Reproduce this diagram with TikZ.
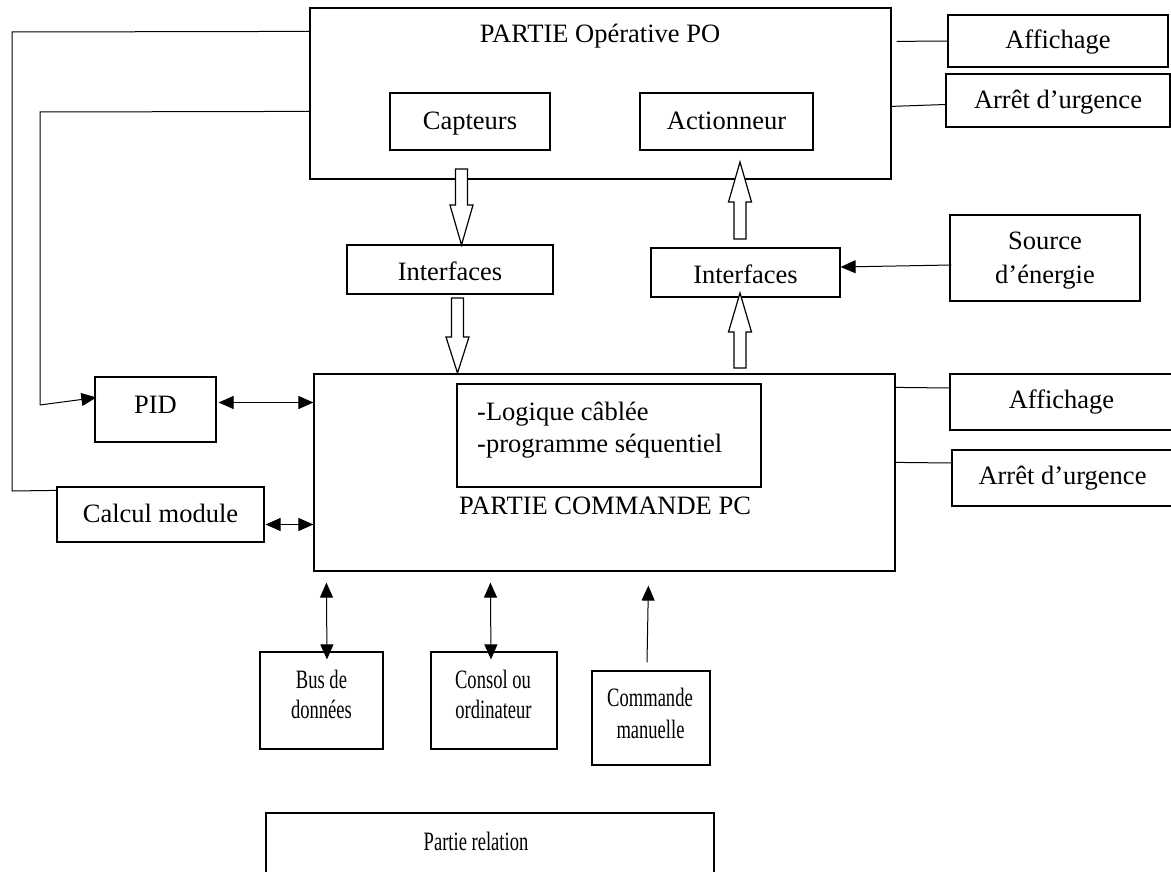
\documentclass[tikz,border=0pt]{standalone}
\usepackage{fontspec}
\setmainfont{Liberation Serif}
\newfontfamily\narrowserif[FakeStretch=0.7]{Liberation Serif}
\usetikzlibrary{arrows.meta,calc}

% block arrow: x, tail y, head-base y, tip y
\newcommand{\blockarrow}[4]{%
  \draw[hollow] ({#1-6},{#2}) -- ({#1+6},{#2}) -- ({#1+6},{#3}) -- ({#1+11.5},{#3})
    -- ({#1},{#4}) -- ({#1-11.5},{#3}) -- ({#1-6},{#3}) -- cycle;}

\begin{document}
\begin{tikzpicture}[x=1pt,y=-1pt,
  txt/.style={font=\fontsize{26.5}{31}\selectfont, inner sep=0pt},
  ntxt/.style={font=\narrowserif\fontsize{26.5}{31}\selectfont, inner sep=0pt},
  box/.style={draw, line width=1.2pt, inner sep=0pt,
    text height=22pt, text depth=6pt,
    font=\fontsize{26.5}{31}\selectfont},
  wire/.style={line width=1pt},
  tip/.style={line width=1pt, -{Triangle[length=15pt,width=13pt]}},
  bitip/.style={line width=1pt, {Triangle[length=15pt,width=13pt]}-{Triangle[length=15pt,width=13pt]}},
  hollow/.style={draw, fill=white, line width=1.2pt, line join=miter}]

\useasboundingbox (0,0) rectangle (1171,872);
\clip (0,0) rectangle (1171,872);

% operative part
\node[box, minimum width=581pt, minimum height=171pt] (po) at (600.5,93.5) {};
\node[txt, anchor=base] (potitle) at (600,43) {PARTIE Opérative PO};
\node[box, minimum width=160pt, minimum height=57pt] (capt) at (470,121.5) {Capteurs};
\node[box, minimum width=173pt, minimum height=57pt] (act) at (726.5,121.5) {Actionneur};

% side boxes of the operative part
\node[box, minimum width=220pt, minimum height=52pt] (aff1) at (1058,41) {Affichage};
\node[box, minimum width=224pt, minimum height=53pt] (arr1) at (1058,100.5) {Arrêt d’urgence};

% interfaces and energy source
\node[box, minimum width=206pt, minimum height=49pt, text depth=1pt] (intL) at (450,269.5) {Interfaces};
\node[box, minimum width=189pt, minimum height=49pt, text depth=1pt] (intR) at (745.5,272.5) {Interfaces};
\node[box, minimum width=190pt, minimum height=86pt] (src) at (1045,258) {};
\node[txt, anchor=base] (src1) at (1045,250) {Source};
\node[txt, anchor=base] (src2) at (1045,283) {d’énergie};

% command part
\node[box, minimum width=581pt, minimum height=197pt] (pc) at (604.5,472.5) {};
\node[box, minimum width=304pt, minimum height=103pt] (logic) at (609,435.5) {};
\node[txt, anchor=base west] (l1) at (477,420) {-Logique câblée};
\node[txt, anchor=base west] (l2) at (477,452) {-programme séquentiel};
\node[txt, anchor=base] (pctitle) at (605,514) {PARTIE COMMANDE PC};

\node[box, minimum width=121pt, minimum height=65pt, text depth=14pt] (pid) at (155.5,409.5) {PID};
\node[box, minimum width=207pt, minimum height=55pt] (calc) at (160.5,514.5) {Calcul module};
\node[box, minimum width=223pt, minimum height=56pt, text depth=10pt] (aff2) at (1061.5,402) {Affichage};
\node[box, minimum width=221pt, minimum height=56pt, text depth=10pt] (arr2) at (1062.5,478) {Arrêt d’urgence};

% devices below the command part
\node[box, minimum width=123pt, minimum height=97pt] (bus) at (321.5,700.5) {};
\node[ntxt, anchor=base] (bus1) at (321.5,688) {Bus de};
\node[ntxt, anchor=base] (bus2) at (321.5,718) {données};
\node[box, minimum width=126pt, minimum height=97pt] (consol) at (494,700.5) {};
\node[ntxt, anchor=base] (consol1) at (493,688) {Consol ou};
\node[ntxt, anchor=base] (consol2) at (493.5,718) {ordinateur};
\node[box, minimum width=118pt, minimum height=94pt] (cmd) at (651,718) {};
\node[ntxt, anchor=base] (cmd1) at (650,706) {Commande};
\node[ntxt, anchor=base] (cmd2) at (650.5,738) {manuelle};

% relation part
\node[box, minimum width=448pt, minimum height=87pt] (rel) at (490,856.5) {};
\node[ntxt, anchor=base] (reltitle) at (476,850) {Partie relation};

% feedback wires on the left
\coordinate (o1) at (12,32);
\coordinate (o2) at (12,491);
\coordinate (i1) at (40,112);
\coordinate (i2) at (40,405);
\draw[wire] ($(po.north west)+(0,24)$) -- (o1) -- (o2) -- ($(calc.north west)+(0,4)$);
\draw[wire] ($(po.north west)+(0,104)$) -- (i1) -- (i2);
\draw[tip] (i2) -- ($(pid.west)+(2,-12)$);

% links to the command part
\draw[bitip] ($(pid.east)+(2,-7)$) -- ($(pc.west)+(0,-70)$);
\draw[bitip] ($(calc.east)+(1,10)$) -- ($(pc.west)+(0,52)$);
\draw[bitip] ($(pc.south west)+(13,11)$) -- ($(bus.north)+(5.5,8)$);
\draw[bitip] ($(pc.south west)+(177,11)$) -- ($(consol.north)+(-3,8)$);
\draw[tip] ($(cmd.north)+(-4,-8)$) -- ($(pc.south west)+(335,14)$);

% right side wires
\draw[wire] ($(po.north east)+(5,34)$) -- (aff1.west);
\draw[wire] ($(po.north east)+(0,99)$) -- ($(arr1.west)+(0,4)$);
\draw[wire] ($(pc.north east)+(0,14)$) -- ($(aff2.west)+(0,-14)$);
\draw[wire] ($(pc.north east)+(0,89)$) -- ($(arr2.west)+(0,-15)$);
\draw[tip] ($(src.west)+(2,7)$) -- ($(intR.east)+(0,-5.5)$);

% hollow flow arrows
\blockarrow{461.5}{169}{205}{245}
\blockarrow{457.5}{298}{337}{373}
\blockarrow{740}{239}{202}{162}
\blockarrow{740}{368}{332}{293}

\end{tikzpicture}
\end{document}
